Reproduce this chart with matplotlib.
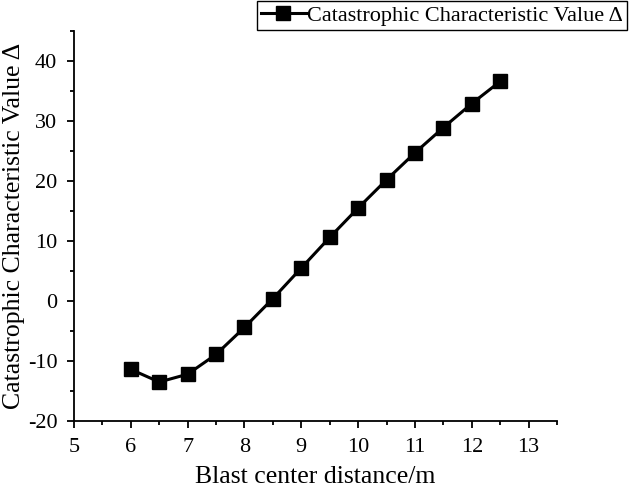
import matplotlib
matplotlib.use("Agg")
import matplotlib.pyplot as plt
from matplotlib.ticker import MultipleLocator

plt.rcParams['font.family'] = ['Liberation Serif', 'DejaVu Serif']
plt.rcParams['axes.unicode_minus'] = False

# blast center distance (m) and catastrophic characteristic value
distance = [6, 6.5, 7, 7.5, 8, 8.5, 9, 9.5, 10, 10.5, 11, 11.5, 12, 12.5]
delta = [-11.4, -13.5, -12.2, -8.9, -4.4, 0.4, 5.5, 10.6, 15.5, 20.2, 24.7, 28.9, 32.9, 36.6]

fig = plt.figure(figsize=(6.3, 4.92), dpi=100)
ax = fig.add_axes([74/630, 1-421/492, (557-74)/630, (421-31)/492])

ax.plot(distance, delta, color='black', linewidth=2.2, marker='s', markersize=10.5,
        label='Catastrophic Characteristic Value Δ')

ax.set_xlim(5, 13.5)
ax.set_ylim(-20, 45)
ax.xaxis.set_major_locator(MultipleLocator(1))
ax.xaxis.set_minor_locator(MultipleLocator(0.5))
ax.yaxis.set_major_locator(MultipleLocator(10))
ax.yaxis.set_minor_locator(MultipleLocator(5))
ax.tick_params(which='major', direction='out', length=5, width=1.3, labelsize=16)
ax.tick_params(axis='x', which='major', pad=7)
ax.tick_params(axis='y', which='major', pad=7)
ax.tick_params(which='minor', direction='out', length=3, width=1.3)
ax.spines['top'].set_visible(False)
ax.spines['right'].set_visible(False)
ax.spines['left'].set_linewidth(1.3)
ax.spines['bottom'].set_linewidth(1.3)

ax.set_xlabel('Blast center distance/m', fontsize=18.5)
ax.xaxis.set_label_coords(0.5, -(466-421)/390)
ax.set_ylabel('Catastrophic Characteristic Value Δ', fontsize=18.5)
ax.yaxis.set_label_coords(-(74-25)/483, (421-226)/390)

leg = ax.legend(loc='upper right', bbox_to_anchor=(627/630, 1-1/492),
                bbox_transform=fig.transFigure, fontsize=16, fancybox=False,
                framealpha=1, edgecolor='black', borderpad=0.2,
                handlelength=2.0, handletextpad=0.05, borderaxespad=0)
leg.get_frame().set_linewidth(1.0)

fig.savefig('out.png', dpi=100)
